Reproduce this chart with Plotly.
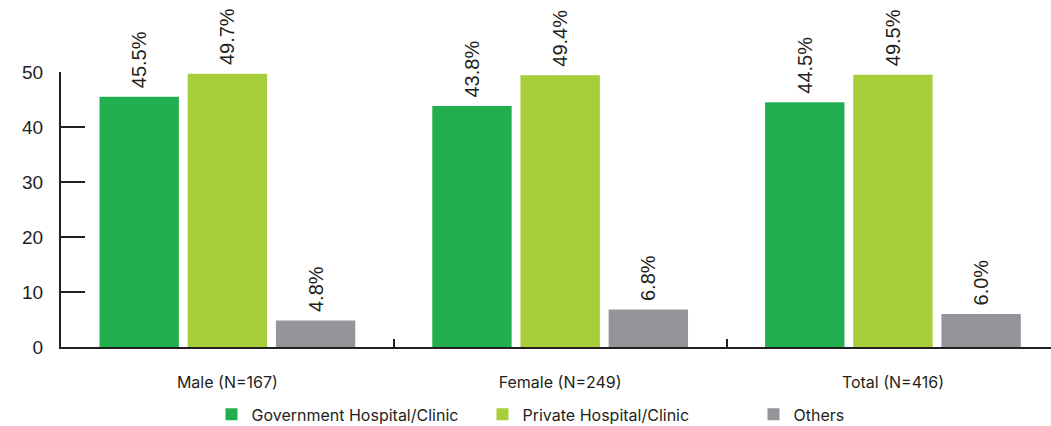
import plotly.graph_objects as go

categories = ["Male (N=167)", "Female (N=249)", "Total (N=416)"]
series_names = ["Government Hospital/Clinic", "Private Hospital/Clinic", "Others"]
gov = [45.5, 43.8, 44.5]
priv = [49.7, 49.4, 49.5]
others = [4.8, 6.8, 6.0]
colors = ["#21AF4F", "#A6CE39", "#939598"]
y_ticks = [0, 10, 20, 30, 40, 50]

fig = go.Figure()
for name, vals, col in zip(series_names, [gov, priv, others], colors):
    fig.add_trace(go.Bar(
        x=categories, y=vals, name=name, marker_color=col, marker_line_width=0,
        text=[f" {v:.1f}%" for v in vals], textposition="outside", textangle=-90,
        textfont=dict(family="Liberation Sans, Arial", size=20, color="#231F20"),
        cliponaxis=False,
    ))

fig.update_layout(
    width=1051, height=426,
    margin=dict(l=61, r=0, t=72, b=79, autoexpand=False),
    plot_bgcolor="white", paper_bgcolor="white",
    barmode="group", bargap=0.205, bargroupgap=0.1,
    uniformtext=dict(minsize=20, mode="show"),
    showlegend=True,
    legend=dict(
        orientation="h", xref="paper", yref="paper",
        x=0.152, y=-0.245, xanchor="left", yanchor="middle",
        entrywidth=226, entrywidthmode="pixels",
        font=dict(family="Inter, Noto Sans", size=16, color="#231F20"),
        itemwidth=30,
    ),
)
fig.update_xaxes(
    range=[-0.5, 2.475], showline=True, linecolor="#231F20", linewidth=2,
    ticks="inside", tickson="boundaries", ticklen=8, tickwidth=2, tickcolor="#231F20",
    tickfont=dict(family="Inter, Noto Sans", size=16, color="#231F20"),
    ticklabelstandoff=20, showgrid=False, zeroline=False,
)
fig.update_yaxes(
    range=[0, 50], tickvals=y_ticks, showline=True, linecolor="#231F20", linewidth=2,
    ticks="inside", ticklen=24, tickwidth=2, tickcolor="#231F20",
    tickfont=dict(family="Liberation Sans, Arial", size=19, color="#231F20"),
    ticklabelstandoff=12, showgrid=False, zeroline=False,
)

fig.write_html("out.html")
